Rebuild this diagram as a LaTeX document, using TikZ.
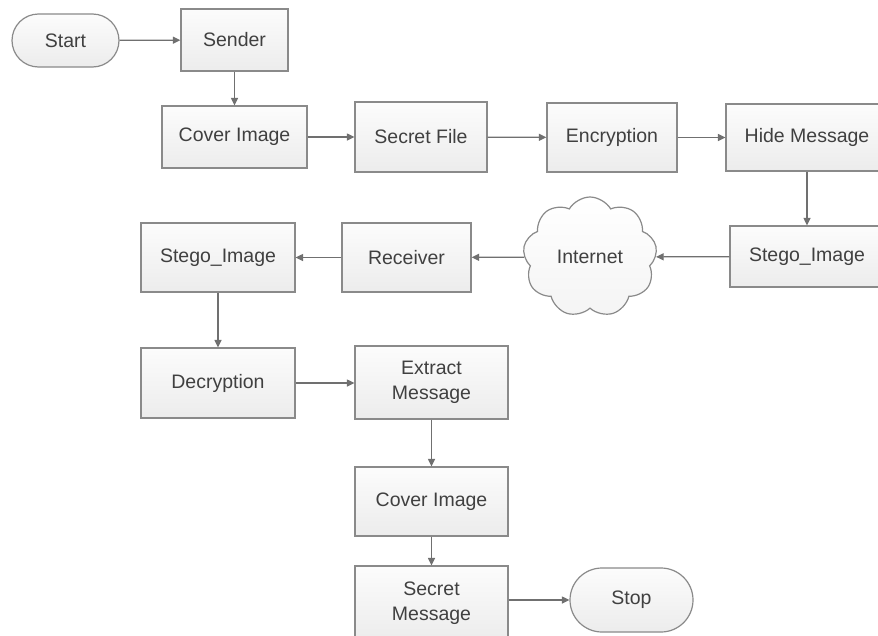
\documentclass[tikz,border=0pt]{standalone}
\usepackage{fontspec}
\setmainfont{Liberation Sans}
\usetikzlibrary{shapes.misc,shapes.symbols,arrows.meta}
\definecolor{edge}{HTML}{8A8A8A}
\definecolor{wire}{HTML}{707070}
\definecolor{ink}{HTML}{404040}
\definecolor{filltop}{HTML}{FCFCFC}
\definecolor{fillbot}{HTML}{ECECEC}
\tikzset{
  base/.style={draw=edge, line width=1.2pt, top color=filltop, bottom color=fillbot,
    text=ink, font=\fontsize{19.5}{25}\selectfont, inner sep=0pt, align=center},
  stepbox/.style={base, rectangle, minimum width=#1},
  terminal/.style={base, rounded rectangle, minimum width=#1},
  flow/.style={draw=wire, line width=1.2pt, -{Triangle[length=7.5pt,width=7pt]}},
}
\begin{document}
\begin{tikzpicture}[x=1pt,y=-1pt]
\useasboundingbox (0,0) rectangle (878,635);
\fill[white] (0,0) rectangle (878,635);

% sending side
\node[terminal=107pt, minimum height=53pt] (start) at (65.5,40.5) {Start};
\node[stepbox=107pt, minimum height=62pt] (sender) at (234.5,40) {Sender};
\node[stepbox=145pt, minimum height=62pt] (cover1) at (234.5,137) {Cover Image};
\node[stepbox=132pt, minimum height=70pt] (secret) at (421,137) {Secret File};
\node[stepbox=130pt, minimum height=69pt] (encr) at (612,137.5) {Encryption};
\node[stepbox=162pt, minimum height=67pt] (hide) at (807,137.5) {Hide Message};
\node[stepbox=154pt, minimum height=61pt] (stegoR) at (807,256.5) {Stego\_Image};

% transfer
\node[base, cloud, cloud puffs=9, cloud puff arc=120, cloud ignores aspect,
      top color=white, bottom color=filltop!50!fillbot,
      minimum width=134pt, minimum height=120pt] (net) at (590,257) {Internet};

% receiving side
\node[stepbox=129pt, minimum height=69pt] (recv) at (406.5,257.5) {Receiver};
\node[stepbox=154pt, minimum height=69pt] (stegoL) at (218,257.5) {Stego\_Image};
\node[stepbox=154pt, minimum height=70pt] (decr) at (218,383) {Decryption};
\node[stepbox=153pt, minimum height=73pt] (extract) at (431.5,382.5) {Extract\\Message};
\node[stepbox=153pt, minimum height=69pt] (cover2) at (431.5,501.5) {Cover Image};
\node[stepbox=153pt, minimum height=74pt] (secmsg) at (431.5,603) {Secret\\Message};
\node[terminal=123pt, minimum height=64pt] (stop) at (631.5,600) {Stop};

% connectors
\draw[flow] (start) -- (sender);
\draw[flow] (sender) -- (cover1);
\draw[flow] (cover1) -- (secret);
\draw[flow] (secret) -- (encr);
\draw[flow] (encr) -- (hide);
\draw[flow] (hide) -- (stegoR);
\draw[flow] (stegoR) -- (net);
\draw[flow] (net) -- (recv);
\draw[flow] (recv) -- (stegoL);
\draw[flow] (stegoL) -- (decr);
\draw[flow] (decr) -- (extract.west |- decr);
\draw[flow] (extract) -- (cover2);
\draw[flow] (cover2) -- (secmsg);
\draw[flow] (secmsg.east |- stop) -- (stop);
\end{tikzpicture}
\end{document}
